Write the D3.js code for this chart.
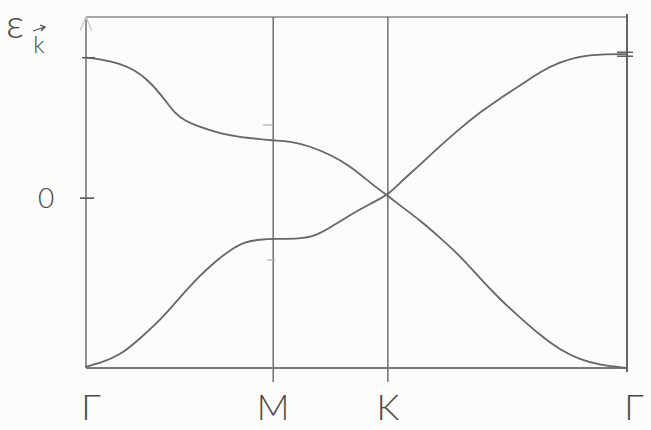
<!DOCTYPE html>
<html>
<head>
<meta charset="utf-8">
<script src="https://cdn.jsdelivr.net/npm/d3@7"></script>
<style>
  body { margin: 0; background: #fcfcfb; }
  text { font-family: "Lato", "DejaVu Sans", sans-serif; fill: #4a4a4a; }
</style>
</head>
<body>
<div id="chart"></div>
<script>
// high symmetry points along the k path (fraction of total path length)
var kPoints = ["\u0393", "M", "K", "\u0393"];
var kPos = [0, 0.346, 0.558, 1.0];

// band 1: starts high at Gamma, goes through K and down to Gamma
var band1K = [0, 0.026, 0.063, 0.091, 0.118, 0.146, 0.165, 0.183, 0.211, 0.248, 0.285, 0.322, 0.346,
              0.377, 0.414, 0.451, 0.488, 0.525, 0.558,
              0.580, 0.617, 0.654, 0.691, 0.728, 0.765, 0.802, 0.839, 0.876, 0.913, 0.950, 1.0];
var band1E = [1.0, 0.99, 0.96, 0.91, 0.83, 0.70, 0.60, 0.55, 0.505, 0.46, 0.435, 0.42, 0.41,
              0.405, 0.37, 0.31, 0.23, 0.11, 0.015,
              -0.05, -0.157, -0.28, -0.41, -0.57, -0.72, -0.85, -0.975, -1.08, -1.15, -1.19, -1.21];

// band 2: starts at bottom at Gamma, goes up through K to top at Gamma
var band2K = [0, 0.026, 0.063, 0.1, 0.128, 0.146, 0.174, 0.211, 0.238, 0.266, 0.294, 0.322, 0.346,
              0.396, 0.423, 0.451, 0.488, 0.525, 0.558,
              0.580, 0.617, 0.654, 0.691, 0.728, 0.765, 0.802, 0.839, 0.876, 0.913, 0.950, 1.0];
var band2E = [-1.20, -1.175, -1.12, -1.0, -0.90, -0.83, -0.705, -0.55, -0.455, -0.37, -0.31, -0.295, -0.29,
              -0.29, -0.27, -0.21, -0.12, -0.04, 0.02,
              0.11, 0.235, 0.37, 0.495, 0.61, 0.71, 0.80, 0.90, 0.97, 1.01, 1.025, 1.025];

var yTicks = [0];

const width = 651;
const height = 430;

var x = d3.scaleLinear().domain([0, 1]).range([86, 627]);
var y = d3.scaleLinear().domain([-1.21, 1.29]).range([368, 17]);

var pencil = "#666";

var svg = d3.select("#chart").append("svg")
    .attr("width", width)
    .attr("height", height);

// frame top
svg.append("line")
    .attr("x1", x(0)).attr("x2", x(1))
    .attr("y1", y(1.29)).attr("y2", y(1.29))
    .attr("stroke", "#8a8a8a").attr("stroke-width", 1.6);

// vertical lines at the k points
svg.selectAll("line.kline")
    .data(kPos)
    .enter()
    .append("line")
    .attr("class", "kline")
    .attr("x1", function(d) { return x(d); })
    .attr("x2", function(d) { return x(d); })
    .attr("y1", function(d, i) { return i == 3 ? y(1.29) - 3 : y(1.29); })
    .attr("y2", function(d, i) { return i == 0 ? y(-1.21) : (i == 3 ? y(-1.21) + 4 : y(-1.21) + 14); })
    .attr("stroke", function(d, i) { return i == 3 ? "#555" : pencil; })
    .attr("stroke-width", function(d, i) { return i == 3 ? 1.8 : 1.4; });

// bottom axis line
svg.append("line")
    .attr("x1", x(0)).attr("x2", x(1))
    .attr("y1", y(-1.21)).attr("y2", y(-1.21))
    .attr("stroke", "#7a7a7a").attr("stroke-width", 2.2);

// arrow at top of energy axis
svg.append("path")
    .attr("d", "M" + (x(0) - 6) + "," + (y(1.29) + 14) + " L" + x(0) + "," + y(1.29) + " L" + (x(0) + 6) + "," + (y(1.29) + 14))
    .attr("fill", "none").attr("stroke", "#c4c4c4").attr("stroke-width", 1.2);

// y ticks
svg.selectAll("line.ytick")
    .data(yTicks)
    .enter()
    .append("line")
    .attr("x1", x(0) - 6).attr("x2", x(0) + 8)
    .attr("y1", function(d) { return y(d); })
    .attr("y2", function(d) { return y(d); })
    .attr("stroke", "#555").attr("stroke-width", 1.6);

svg.selectAll("text.ytick")
    .data(yTicks)
    .enter()
    .append("text")
    .attr("x", 46)
    .attr("y", function(d) { return y(d) + 10; })
    .attr("text-anchor", "middle")
    .style("font-size", "28px")
    .style("font-weight", 300)
    .text(function(d) { return d; });

// small marks at band edges
svg.append("line")
    .attr("x1", x(0) - 4).attr("x2", x(0) + 9)
    .attr("y1", y(band1E[0])).attr("y2", y(band1E[0]))
    .attr("stroke", "#555").attr("stroke-width", 1.5);
svg.append("line")
    .attr("x1", x(1) - 10).attr("x2", x(1) + 6)
    .attr("y1", y(band2E[band2E.length - 1]) - 2).attr("y2", y(band2E[band2E.length - 1]) - 2)
    .attr("stroke", "#555").attr("stroke-width", 1.4);
svg.append("line")
    .attr("x1", x(1) - 10).attr("x2", x(1) + 6)
    .attr("y1", y(band2E[band2E.length - 1]) + 2).attr("y2", y(band2E[band2E.length - 1]) + 2)
    .attr("stroke", "#555").attr("stroke-width", 1.4);
svg.append("line")
    .attr("x1", x(kPos[1]) - 10).attr("x2", x(kPos[1]))
    .attr("y1", 125).attr("y2", 125)
    .attr("stroke", "#aaa").attr("stroke-width", 1.2);
svg.append("line")
    .attr("x1", x(kPos[1]) - 6).attr("x2", x(kPos[1]) + 2)
    .attr("y1", 260).attr("y2", 260)
    .attr("stroke", "#aaa").attr("stroke-width", 1.2);

// bands
var line = d3.line()
    .x(function(d) { return x(d[0]); })
    .y(function(d) { return y(d[1]); })
    .curve(d3.curveBasis);

var bands = [d3.zip(band1K, band1E), d3.zip(band2K, band2E)];

svg.selectAll("path.band")
    .data(bands)
    .enter()
    .append("path")
    .attr("class", "band")
    .attr("d", line)
    .attr("fill", "none")
    .attr("stroke", pencil)
    .attr("stroke-width", 1.8)
    .attr("stroke-linecap", "round");

// k point labels
svg.selectAll("text.klabel")
    .data(kPoints)
    .enter()
    .append("text")
    .attr("x", function(d, i) { return x(kPos[i]) + (i == 0 ? 5 : (i == 3 ? 7 : 0)); })
    .attr("y", 420)
    .attr("text-anchor", "middle")
    .style("font-size", "36px")
    .style("font-weight", 300)
    .text(function(d) { return d; });

// energy label: epsilon with k-vector subscript
svg.append("text")
    .attr("x", 6)
    .attr("y", 38)
    .style("font-size", "40px")
    .style("font-weight", 300)
    .text("\u03b5");
svg.append("text")
    .attr("x", 39)
    .attr("y", 53)
    .attr("text-anchor", "middle")
    .style("font-size", "24px")
    .style("font-weight", 300)
    .text("k");
// little vector arrow over the k
svg.append("path")
    .attr("d", "M33,31 L45,27 M40,25 L45,27 L41,31")
    .attr("fill", "none").attr("stroke", "#4a4a4a").attr("stroke-width", 1.3);
</script>
</body>
</html>
